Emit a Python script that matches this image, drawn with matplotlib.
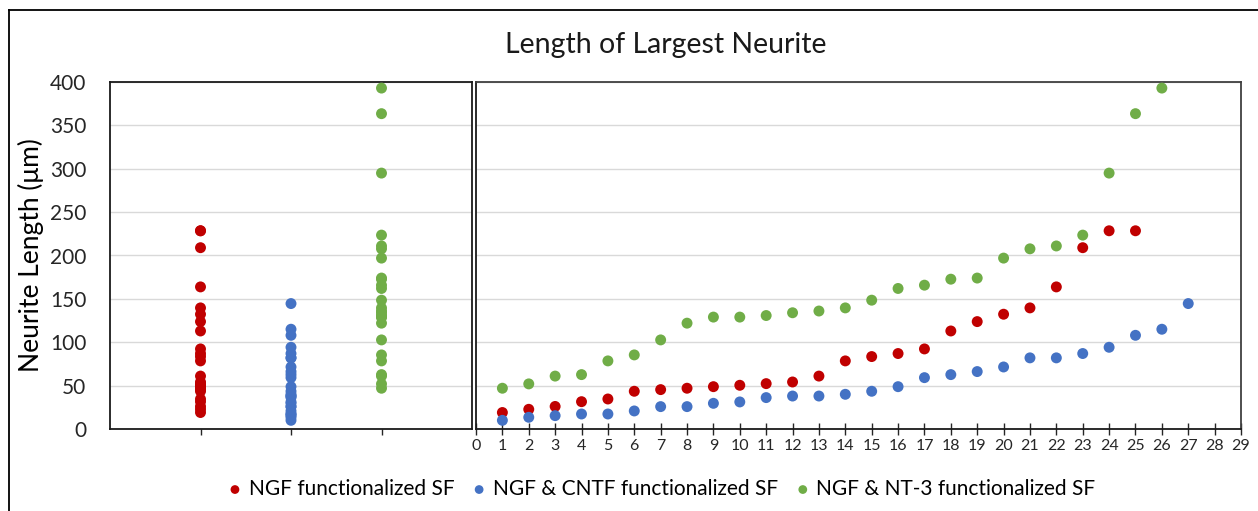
import matplotlib
matplotlib.use("Agg")
import matplotlib.pyplot as plt
from matplotlib.lines import Line2D

# ---- data ----
ngf = [19, 22.7, 26, 31.5, 34.6, 43.5, 45.4, 47, 48.8, 50.4, 52.3, 54.2, 61, 78.5,
       83.5, 87, 92.3, 113, 123.8, 132.3, 139.6, 163.8, 209, 228.5, 228.5]
ngf_cntf = [10, 13.5, 15.4, 17.3, 17.3, 20.8, 25.8, 25.8, 29.6, 31.2, 36.2, 38, 38, 40,
            43.5, 48.8, 59.2, 62.7, 66.2, 71.5, 82, 82, 87, 94.2, 108, 115, 144.6]
ngf_nt3 = [47, 52, 61, 62.7, 78.5, 85.4, 102.7, 122, 129, 129, 130.8, 134, 136, 139.6,
           148.5, 162, 165.8, 172.7, 174, 197, 207.7, 211, 223.5, 295, 363.5, 393]
labels = ["NGF functionalized SF", "NGF & CNTF functionalized SF", "NGF & NT-3 functionalized SF"]
colors = ["#C00000", "#4472C4", "#70AD47"]
title = "Length of Largest Neurite"
ylabel = "Neurite Length (\u03bcm)"
yticks = list(range(0, 401, 50))
xticks_right = list(range(0, 30))

series = [ngf, ngf_cntf, ngf_nt3]

plt.rcParams['font.family'] = ['Lato', 'DejaVu Sans']
W, H = 1258, 511
fig = plt.figure(figsize=(W / 100, H / 100), dpi=100)

def fx(px):
    return px / W

def fy(py):
    return 1 - py / H

bottom = fy(429)
top = fy(82)
axL = fig.add_axes([fx(110), bottom, fx(472) - fx(110), top - bottom])
axR = fig.add_axes([fx(476), bottom, fx(1241) - fx(476), top - bottom], sharey=axL)

tick_color = "#262626"
ms = 62
for i, (vals, c) in enumerate(zip(series, colors)):
    axL.scatter([i + 1] * len(vals), vals, s=ms, color=c, edgecolors='none', zorder=3)
    axR.scatter(range(1, len(vals) + 1), vals, s=ms, color=c, edgecolors='none', zorder=3,
                label=labels[i])

for ax in (axL, axR):
    ax.set_ylim(0, 400)
    ax.set_yticks(yticks)
    ax.grid(axis='y', color='#D9D9D9', linewidth=1.0, zorder=0)
    ax.set_axisbelow(True)

axL.set_xlim(0, 4)
axL.set_xticks([1, 2, 3])
axL.set_xticklabels([])
axL.tick_params(axis='x', direction='out', length=4, width=1, color='#262626')
axL.tick_params(axis='y', length=0, pad=17, labelsize=15, labelcolor=tick_color)
for sp in axL.spines.values():
    sp.set_color('#1a1a1a')
    sp.set_linewidth(1.3)
axL.set_ylabel(ylabel, fontsize=19, color='black', labelpad=4)

axR.set_xlim(0, 29)
axR.set_xticks(xticks_right)
axR.tick_params(axis='x', direction='inout', length=9, width=1, color='#262626',
                labelsize=11.5, labelcolor=tick_color, pad=3)
axR.tick_params(axis='y', length=0, labelleft=False)
for name, sp in axR.spines.items():
    sp.set_linewidth(1.3)
    sp.set_color('#1a1a1a' if name in ('left', 'bottom') else '#404040')

fig.text(fx(666), fy(45), title, ha='center', va='center', fontsize=20.5, color='#1a1a1a')

handles, lbls = axR.get_legend_handles_labels()
fig.legend(handles, lbls, loc='center', bbox_to_anchor=(fx(660), fy(489)), ncol=3,
           frameon=False, fontsize=15, handletextpad=0.15, columnspacing=0.7,
           markerscale=0.8, handlelength=1.0, borderpad=0)

# outer chart frame (left and top edges visible; others outside the picture)
fig.add_artist(Line2D([fx(8.5), fx(8.5)], [0, fy(10)], color='black', linewidth=1.3,
                      transform=fig.transFigure))
fig.add_artist(Line2D([fx(8.5), 1], [fy(10), fy(10)], color='black', linewidth=1.3,
                      transform=fig.transFigure))

fig.savefig("out.png", dpi=100)
